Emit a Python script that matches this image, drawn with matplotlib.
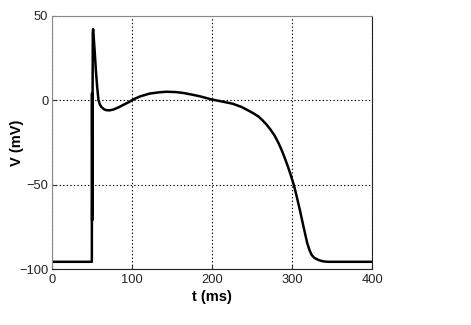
import matplotlib
matplotlib.use("Agg")
import matplotlib.pyplot as plt

# action potential trace
t = [0, 50, 50.2, 50.4, 51.2, 51.6, 52.5, 53.7, 55, 56.6, 58.3, 60, 62, 65,
     68, 72, 77, 83, 90, 96, 102, 110, 122, 133, 143, 155, 164, 175, 185,
     200, 213, 226, 237, 247, 252, 258, 263, 268, 273, 278, 283, 287, 291,
     295, 298, 302.5, 306, 310, 314, 319, 322, 324.6, 328, 332.5, 336,
     340, 345, 400]
v = [-95.5, -95.5, 4, -71, 40, 42, 36, 27.8, 18, 8, 0, -2.5, -4, -5.3,
     -5.9, -6, -5.5, -4.3, -2.6, -1.2, 0.5, 2.2, 3.9, 4.6, 5, 4.8, 4.3, 3.3,
     2.3, 0.4, -0.8, -2.1, -4, -6.5, -7.8, -9.6, -11.8, -14.3, -17.3, -20.7,
     -25.2, -29.4, -34.2, -39.4, -43.6, -50.5, -57.2, -65.3, -74, -84.5,
     -88.8, -91.5, -93.2, -94.3, -94.9, -95.3, -95.5, -95.5]

xticks = [0, 100, 200, 300, 400]
yticks = [-100, -50, 0, 50]

plt.rcParams['font.family'] = ['Liberation Sans', 'DejaVu Sans']

fig = plt.figure(figsize=(4.71, 3.25), dpi=100)
ax = fig.add_axes([0.110, 0.171, 0.680, 0.781])

ax.plot(t, v, color="black", linewidth=1.8, solid_joinstyle="round")

ax.set_xlim(0, 400)
ax.set_ylim(-100, 50)
ax.set_xticks(xticks)
ax.set_yticks(yticks)
ax.set_yticklabels([str(y).replace("-", "\u2212") for y in yticks])
ax.tick_params(direction="in", length=3, labelsize=9.3, colors="#333333")
ax.tick_params(axis="x", pad=3)
ax.tick_params(axis="y", pad=2.5)
ax.tick_params(labelcolor="#222222")

ax.grid(True, color="black", linestyle=(0, (1.2, 2)), linewidth=0.8)

for side in ["left", "top"]:
    ax.spines[side].set_color("#888888")
for side in ["bottom", "right"]:
    ax.spines[side].set_color("#222222")

ax.set_xlabel("t (ms)", fontsize=10.5, fontweight="bold", labelpad=3)
ax.set_ylabel("V (mV)", fontsize=10.5, fontweight="bold")
ax.yaxis.set_label_coords(-0.088, 0.5)

fig.savefig("out.png", dpi=100)
